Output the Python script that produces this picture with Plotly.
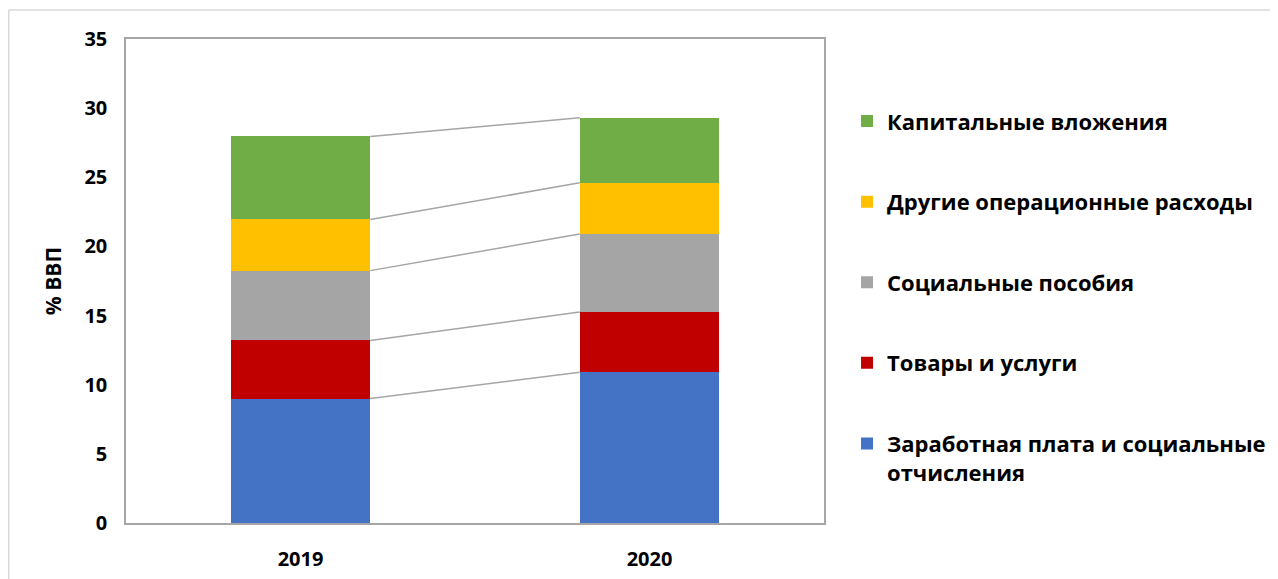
import plotly.graph_objects as go

years = ["2019", "2020"]
series_names = [
    "Заработная плата и социальные<br>отчисления",
    "Товары и услуги",
    "Социальные пособия",
    "Другие операционные расходы",
    "Капитальные вложения",
]
wages = [9.0, 10.9]
goods = [4.2, 4.35]
social = [5.05, 5.65]
other = [3.7, 3.7]
capital = [6.0, 4.7]
colors = ["#4472C4", "#C00000", "#A5A5A5", "#FFC000", "#70AD47"]

values = [wages, goods, social, other, capital]
xpos = list(range(len(years)))
bar_w = 0.4

FAM = "Open Sans"

fig = go.Figure()
n = len(values)
for i, (name, vals, col) in enumerate(zip(series_names, values, colors)):
    fig.add_trace(go.Bar(
        x=xpos, y=vals, name=name, width=bar_w,
        marker=dict(color=col, line=dict(width=0)),
        legendgroup="g%d" % i, legendrank=n - i,
    ))

# connector lines between stacked tops
cum = [0.0, 0.0]
for vals in values:
    cum = [c + v for c, v in zip(cum, vals)]
    fig.add_trace(go.Scatter(
        x=[xpos[0] + bar_w / 2, xpos[1] - bar_w / 2], y=list(cum),
        mode="lines", line=dict(color="#A5A5A5", width=1.5),
        showlegend=False, hoverinfo="skip",
    ))

tickfont = dict(family=FAM, size=20, color="#000000", weight="bold")

fig.update_layout(
    width=1278, height=579,
    barmode="stack",
    paper_bgcolor="white", plot_bgcolor="white",
    margin=dict(l=118, r=462, t=31, b=64),
    font=dict(family=FAM, size=20, color="#000000"),
    xaxis=dict(
        range=[-0.5, 1.5], tickvals=xpos, ticktext=years,
        showline=True, mirror=True, linecolor="#A6A6A6", linewidth=1.5,
        showgrid=False, zeroline=False, ticks="",
        tickfont=tickfont, ticklabelstandoff=17,
    ),
    yaxis=dict(
        range=[0, 35], dtick=5, tick0=0,
        showline=True, mirror=True, linecolor="#A6A6A6", linewidth=1.5,
        showgrid=False, zeroline=False, ticks="",
        tickfont=tickfont, ticklabelstandoff=13,
        title=dict(text="% ВВП", standoff=17,
                   font=dict(family=FAM, size=21, color="#000000", weight="bold")),
    ),
    legend=dict(
        x=1.033, xanchor="left", y=0.8735, yanchor="top",
        traceorder="grouped", tracegroupgap=49,
        valign="top",
        font=dict(family=FAM, size=22, color="#000000", weight="bold"),
        bgcolor="rgba(0,0,0,0)",
    ),
    shapes=[
        dict(type="line", xref="paper", yref="paper",
             x0=-0.168, x1=1.67, y0=1.0599, y1=1.0599,
             line=dict(color="#D9D9D9", width=1.5)),
        dict(type="line", xref="paper", yref="paper",
             x0=-0.168, x1=-0.168, y0=1.0599, y1=-0.15,
             line=dict(color="#D9D9D9", width=1.5)),
    ],
)

fig.write_html("out.html")
